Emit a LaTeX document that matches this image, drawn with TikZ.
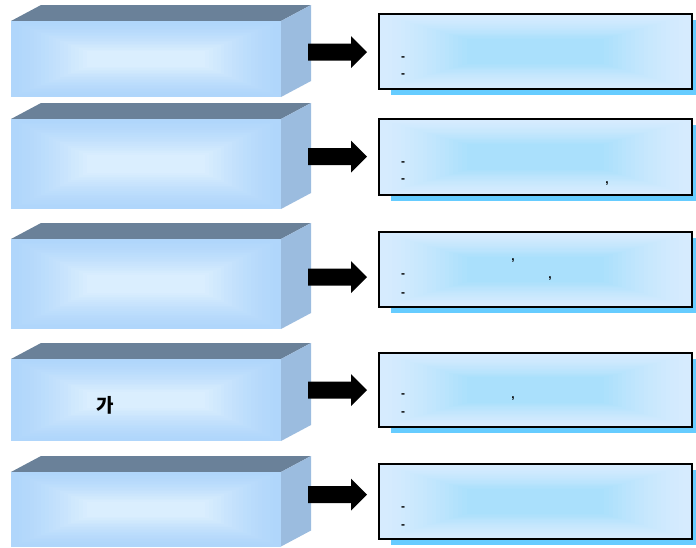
\documentclass[tikz,border=0pt]{standalone}
\usepackage{fontspec}
\setmainfont{Liberation Sans}
\newfontfamily\krfont{Noto Sans CJK KR}
\definecolor{topc}{RGB}{106,129,153}
\definecolor{sidec}{RGB}{155,188,223}
\definecolor{fout}{RGB}{176,214,251}
\definecolor{fin}{RGB}{218,238,254}
\definecolor{rout}{RGB}{214,235,254}
\definecolor{rin}{RGB}{170,224,252}
\definecolor{shad}{RGB}{102,204,255}
\tikzset{
  txt/.style={inner sep=0pt, anchor=base, font=\bfseries\fontsize{12}{14}\selectfont},
  boxborder/.style={draw=black, line width=1.6pt},
  blockarrow/.style={fill=black}
}
\newcommand\gradrect[8]{%
  \foreach \k in {0,...,20}{%
    \pgfmathsetmacro\ix{\k/20*#7*(#3-#1)}%
    \pgfmathsetmacro\iy{\k/20*#8*(#4-#2)}%
    \pgfmathtruncatemacro\pc{100*(\k/20)^1.4}%
    \fill[#6!\pc!#5] ({#1+\ix},{#2+\iy}) rectangle ({#3-\ix},{#4-\iy});
  }}
\newcommand\leftbox[3]{%
  \fill[topc] (11,#2) -- (41,{#2-16}) -- (311,{#2-16}) -- (281,#2) -- cycle;
  \fill[sidec] (281,#2) -- (311,{#2-16}) -- (311,{#3-16}) -- (281,#3) -- cycle;
  \gradrect{11}{#2}{281}{#3}{fout}{fin}{0.28}{0.4}
  \node[inner sep=0pt, minimum width=270pt, minimum height={#3-#2}] (#1) at (146,{(#2+#3)/2}) {};
}
\newcommand\rightbox[3]{%
  \fill[shad] (391,{#2+6}) rectangle (696,{#3+6});
  \gradrect{379}{#2}{692}{#3}{rout}{rin}{0.28}{0.33}
  \node[boxborder, inner sep=0pt, minimum width=313pt, minimum height={#3-#2}] (#1) at (535.5,{(#2+#3)/2}) {};
}
\newcommand\blockarr[3]{%
  \fill[blockarrow] (#1) ++(0,-8.5) -- ++(43,0) -- ++(0,-7.5) -- (#2) -- ++(-16,16) -- ++(0,-7.5) -- ++(-43,0) -- cycle;
}
\begin{document}
\begin{tikzpicture}[x=1pt,y=-1pt]
\useasboundingbox (0,0) rectangle (696,547);
% left 3D boxes
\leftbox{L1}{21}{97}
\leftbox{L2}{119}{209}
\leftbox{L3}{239}{329}
\leftbox{L4}{359}{441}
\leftbox{L5}{472}{546.5}
% right boxes
\rightbox{R1}{14}{89}
\rightbox{R2}{119}{195}
\rightbox{R3}{232}{307}
\rightbox{R4}{353}{427}
\rightbox{R5}{464}{539}
% arrows
\coordinate (s1) at (308,52);    \coordinate (e1) at (367,52);
\coordinate (s2) at (308,156.5); \coordinate (e2) at (367,156.5);
\coordinate (s3) at (308,277);   \coordinate (e3) at (367,277);
\coordinate (s4) at (308,390);   \coordinate (e4) at (367,390);
\coordinate (s5) at (308,494.5); \coordinate (e5) at (367,494.5);
\blockarr{s1}{e1}{}
\blockarr{s2}{e2}{}
\blockarr{s3}{e3}{}
\blockarr{s4}{e4}{}
\blockarr{s5}{e5}{}
% texts
\node[font=\krfont\bfseries\fontsize{19}{22}\selectfont, inner sep=0pt] (k4) at (105,405) {가};
\node[txt] (d11) at (403,60) {-};
\node[txt] (d12) at (403,77) {-};
\node[txt] (d21) at (403,165) {-};
\node[txt] (d22) at (403,182) {-};
\node[txt] (c21) at (607,183) {,};
\node[txt] (d31) at (403,277) {-};
\node[txt] (d32) at (403,296) {-};
\node[txt] (c31) at (513,260) {,};
\node[txt] (c32) at (550,278) {,};
\node[txt] (d41) at (403,397) {-};
\node[txt] (d42) at (403,415) {-};
\node[txt] (c41) at (513,398) {,};
\node[txt] (d51) at (403,510) {-};
\node[txt] (d52) at (403,528) {-};
\end{tikzpicture}
\end{document}
